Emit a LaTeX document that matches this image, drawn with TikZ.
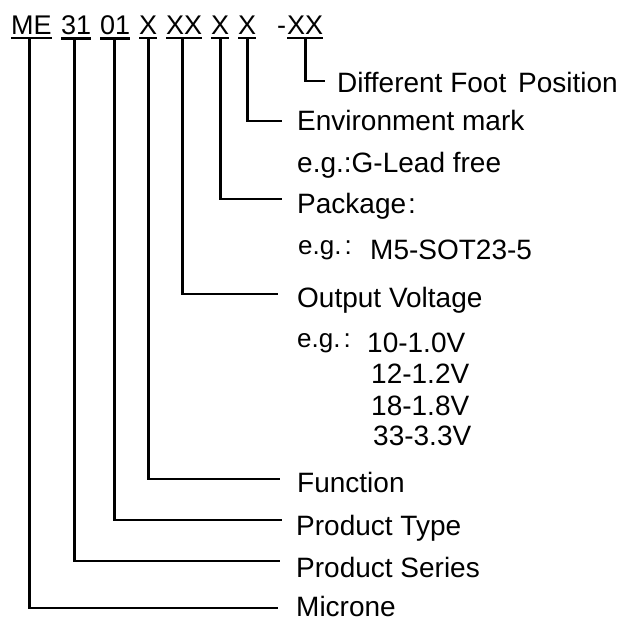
\documentclass[tikz,border=0pt]{standalone}
\usepackage{fontspec}
\setmainfont{Liberation Sans}
\begin{document}
\begin{tikzpicture}[x=1pt,y=-1pt,
  lab/.style={anchor=base west, inner sep=0pt, font=\fontsize{28}{30}\selectfont},
  code/.style={anchor=base west, inner sep=0pt, font=\fontsize{27}{30}\selectfont},
  eg/.style={anchor=base west, inner sep=0pt, font=\fontsize{26}{30}\selectfont},
  leader/.style={line width=2.8pt, black},
  uline/.style={line width=2.2pt, black}]
\useasboundingbox (0,0) rectangle (627,619);
% code row
\node[code] (me) at (11,34) {ME};
\node[code] (c31) at (61,34) {31};
\node[code] (c01) at (100,34) {01};
\node[code] (cfun) at (139,34) {X};
\node[code] (cvol) at (166,34) {XX};
\node[code] (cpkg) at (211,34) {X};
\node[code] (cenv) at (238,34) {X};
\node[code] (cdash) at (277,34) {-};
\node[code] (cfoot) at (287,34) {XX};
\foreach \n in {me,c31,c01,cfun,cvol,cpkg,cenv,cfoot}
  \draw[uline] ([yshift=-4pt]\n.south west) -- ([yshift=-4pt]\n.south east);
% labels
\node[lab] (lfoot) at (337,92) {Different Foot\hspace{4pt} Position};
\node[lab] (lenv) at (297,130) {Environment mark};
\node[lab] (llead) at (297,172) {e.g.:G-Lead free};
\node[lab] (lpkg) at (297,213) {Package\hspace{2pt}:};
\node[eg] (egpkg) at (298,254) {e.g.\hspace{3pt}:};
\node[lab] (vpkg) at (370,259) {M5-SOT23-5};
\node[lab] (lvol) at (297,307) {Output Voltage};
\node[eg] (egvol) at (297,347) {e.g.\hspace{3pt}:};
\node[lab] (v10) at (367,352) {10-1.0V};
\node[lab] (v12) at (371,383) {12-1.2V};
\node[lab] (v18) at (371,415) {18-1.8V};
\node[lab] (v33) at (373,445) {33-3.3V};
\node[lab] (lfun) at (297,492) {Function};
\node[lab] (ltype) at (296,535) {Product Type};
\node[lab] (lser) at (296,577) {Product Series};
\node[lab] (lmic) at (296,616) {Microne};
% corners
\coordinate (kfoot) at (325,81);
\coordinate (kenv) at (282,121);
\coordinate (kpkg) at (282,199);
\coordinate (kvol) at (278,294);
\coordinate (kfun) at (280,479);
\coordinate (ktype) at (282,520);
\coordinate (kser) at (280,561);
\coordinate (kmic) at (278,608);
% leaders
\draw[leader] ([yshift=-4pt]cfoot.south) |- (kfoot);
\draw[leader] ([yshift=-4pt]cenv.south) |- (kenv);
\draw[leader] ([yshift=-4pt]cpkg.south) |- (kpkg);
\draw[leader] ([xshift=-2pt,yshift=-4pt]cvol.south) |- (kvol);
\draw[leader] ([yshift=-4pt]cfun.south) |- (kfun);
\draw[leader] ([xshift=-1pt,yshift=-4pt]c01.south) |- (ktype);
\draw[leader] ([xshift=-2pt,yshift=-4pt]c31.south) |- (kser);
\draw[leader] ([xshift=-2pt,yshift=-4pt]me.south) |- (kmic);
\end{tikzpicture}
\end{document}
